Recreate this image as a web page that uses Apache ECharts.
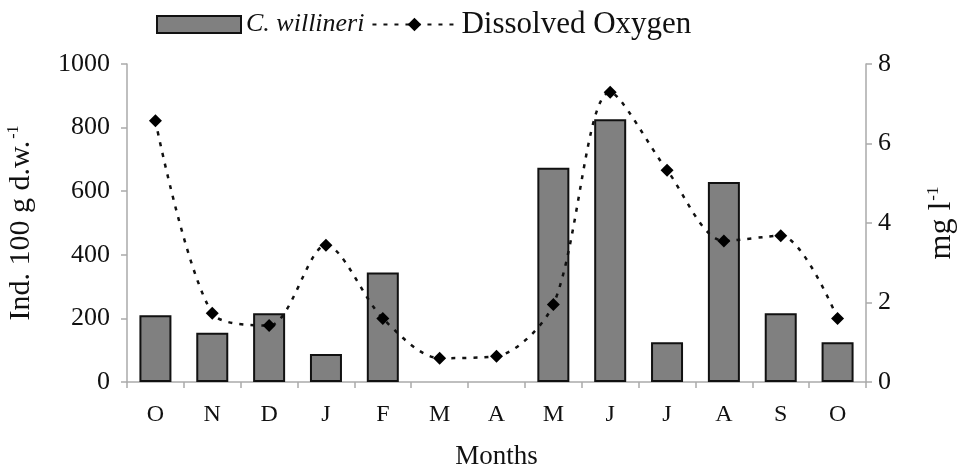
<!DOCTYPE html>
<html><head><meta charset="utf-8">
<script src="https://cdn.jsdelivr.net/npm/echarts@6/dist/echarts.min.js"></script>
<style>html,body{margin:0;padding:0;background:#fff}#c{width:957px;height:470px}</style>
</head><body><div id="c"></div>
<script>
const months = ['O','N','D','J','F','M','A','M','J','J','A','S','O'];
const willineri = [210,155,216,88,344,0,0,674,826,125,629,216,125];
const oxygen = [6.57,1.73,1.42,3.44,1.60,0.60,0.65,1.95,7.29,5.33,3.55,3.68,1.60];
const leftTicks = [0,200,400,600,800,1000];
const rightTicks = [0,2,4,6,8];

const F = 'Liberation Serif';
const chart = echarts.init(document.getElementById('c'));
chart.setOption({
  animation:false,
  backgroundColor:'#fff',
  textStyle:{fontFamily:F,color:'#111'},
  legend:{
    left:151, top:4, itemWidth:84, itemHeight:17, itemGap:7,
    textStyle:{fontFamily:F,fontSize:31,color:'#111',
      rich:{it:{fontFamily:F,fontSize:26,fontStyle:'italic',color:'#111'}}},
    formatter:function(n){return n==='C. willineri' ? '{it|C. willineri}' : n;},
    data:[{name:'C. willineri',icon:'rect',itemStyle:{color:'#808080',borderColor:'#111',borderWidth:2}},
          {name:'Dissolved Oxygen'}]
  },
  grid:{left:127,right:91,top:64,bottom:88,outerBoundsMode:'none',containLabel:false},
  xAxis:{
    type:'category', data:months, boundaryGap:true,
    name:'Months', nameLocation:'middle', nameGap:61,
    nameTextStyle:{fontFamily:F,fontSize:27,color:'#111'},
    axisLine:{lineStyle:{color:'#aaa',width:1.5}},
    axisTick:{show:true,length:6,lineStyle:{color:'#aaa',width:1.5}},
    axisLabel:{fontFamily:F,fontSize:24,color:'#111',margin:21}
  },
  yAxis:[{
    type:'value', min:0, max:1000, interval:200, position:'left',
    name:'{a|Ind. 100 g d.w.}{s|-1}', nameLocation:'middle', nameGap:90, nameRotate:90,
    nameTextStyle:{rich:{a:{fontFamily:F,fontSize:30,color:'#111'},s:{fontFamily:F,fontSize:16,color:'#111',padding:[0,0,15,2]}}},
    axisLine:{show:true,lineStyle:{color:'#aaa',width:1.5}},
    axisTick:{show:true,length:6,lineStyle:{color:'#aaa',width:1.5}},
    splitLine:{show:false},
    axisLabel:{fontFamily:F,fontSize:26,color:'#111',margin:17,
      formatter:function(v){return leftTicks.indexOf(v)>=0?String(v):'';}}
  },{
    type:'value', min:0, max:8, interval:2, position:'right',
    name:'{a|mg l}{s|-1}', nameLocation:'middle', nameGap:59, nameRotate:90,
    nameTextStyle:{rich:{a:{fontFamily:F,fontSize:32,color:'#111'},s:{fontFamily:F,fontSize:17,color:'#111',padding:[0,0,16,1]}}},
    axisLine:{show:true,lineStyle:{color:'#aaa',width:1.5}},
    axisTick:{show:true,length:6,lineStyle:{color:'#aaa',width:1.5}},
    splitLine:{show:false},
    axisLabel:{fontFamily:F,fontSize:26,color:'#111',margin:12,
      formatter:function(v){return rightTicks.indexOf(v)>=0?String(v):'';}}
  }],
  series:[{
    name:'C. willineri', type:'bar', yAxisIndex:0, barWidth:32,
    data:willineri.map(function(v){return v===0?{value:v,itemStyle:{borderWidth:0}}:v;}),
    itemStyle:{color:'#808080',borderColor:'#111',borderWidth:2}
  },{
    name:'Dissolved Oxygen', type:'line', yAxisIndex:1, data:oxygen, smooth:0.3,
    symbol:'diamond', symbolSize:13,
    itemStyle:{color:'#000'},
    lineStyle:{color:'#111',width:2.5,type:[4,7]}
  }]
});
</script></body></html>
